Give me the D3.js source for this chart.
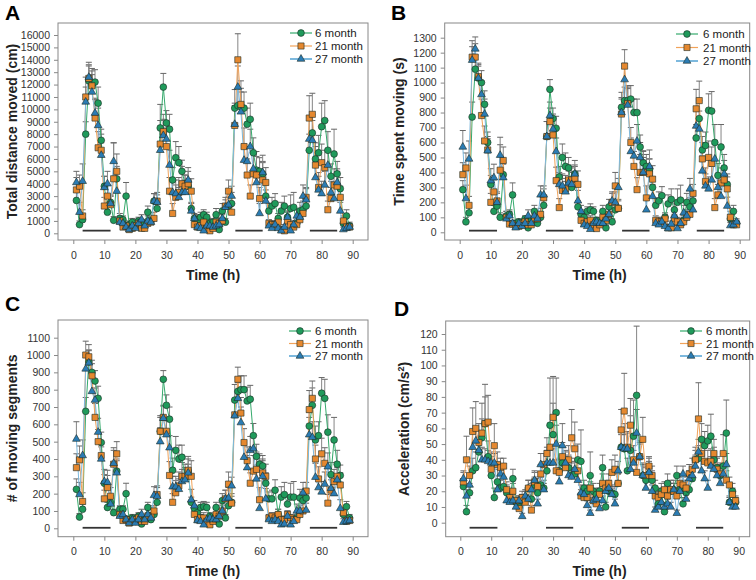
<!DOCTYPE html>
<html>
<head>
<meta charset="utf-8">
<script src="https://cdn.jsdelivr.net/npm/d3@7"></script>
<style>
  body { margin: 0; background: #fff; }
  svg { display: block; font-family: Arial, "Liberation Sans", sans-serif; }
</style>
</head>
<body>
<svg id="chart" width="756" height="580"></svg>
<script>
// hours 1..89
var hours = d3.range(1, 90);
var seriesNames = ['6 month', '21 month', '27 month'];
var darkPeriods = [[3, 12], [27.7, 36.5], [52.2, 61], [76.2, 85]];

// A - total distance moved (cm)
var distM6 = [2650,700,1100,8000,12300,12000,12200,10500,7500,3800,
  1700,2500,1050,4400,1200,1100,3000,700,900,600,
  1000,600,800,1700,1000,2600,2000,8500,11800,8900,
  8400,4300,6100,5700,5000,4000,3800,2000,1200,1100,
  1300,1500,1300,800,900,1500,300,1800,900,2200,
  2400,10100,10300,10200,10100,8800,9200,6500,5100,5000,
  4800,3000,1800,2200,2400,1200,1800,2200,1300,2000,
  2100,800,1800,1900,2200,6700,8100,6000,6500,8600,
  9100,6700,4600,6400,4800,3600,800,1400,600];
var distM21 = [3500,3800,1400,11000,12500,11900,9300,6900,6700,2200,
  3000,2300,4400,5000,1000,500,600,300,400,600,
  800,400,400,800,900,1200,2600,7200,8200,7000,
  3400,1600,2900,3300,4000,3800,4000,3400,700,500,
  600,900,400,200,400,900,800,1000,2200,3400,
  1700,8700,14000,10400,7000,4700,3000,4800,4700,2800,
  4300,4100,800,700,700,900,300,200,1000,700,
  500,700,1100,1600,2900,9300,9600,5500,3700,5700,
  5300,1900,2800,3900,3800,2900,1000,500,500];
var distM27 = [4100,1700,4200,10600,12600,11400,9700,8700,6300,3700,
  4000,2400,5800,3400,900,800,500,300,600,400,
  800,1100,600,1000,900,2600,2500,6700,7900,7600,
  5500,3300,3200,2900,3300,3300,4300,1800,1200,500,
  400,200,600,600,500,600,700,1200,2100,2300,
  3000,8800,11800,9800,5900,5800,7000,5200,4100,1600,
  4900,2600,600,400,700,400,200,500,1300,200,
  700,1400,1300,3000,2700,7600,7500,4500,3500,3200,
  3900,5500,3300,2800,4100,1800,300,400,500];
var distErr6 = [700,300,400,1000,1300,1300,1000,1300,900,800,
  400,500,300,1000,400,300,1100,300,300,200,
  300,200,300,500,300,600,600,1900,1100,1000,
  1200,1000,1300,1300,900,700,600,500,300,400,
  400,400,400,300,300,500,200,600,300,700,
  900,1500,1300,1500,1300,1300,1300,1200,1100,1100,
  900,900,600,700,800,400,700,800,500,1100,
  1200,300,700,700,800,1300,1500,1300,1400,1900,
  1600,1500,1000,2000,1000,900,300,500,300];
var distErr21 = [1000,900,500,1600,1000,1200,1500,1300,1300,700,
  900,700,2900,1400,400,300,300,200,200,300,
  300,200,200,400,400,500,700,1900,1400,1500,
  1100,800,1000,1200,1400,900,1000,1000,300,300,
  300,400,200,200,300,400,400,500,700,900,
  700,1800,2100,1900,1500,1300,900,1700,1900,900,
  1500,1200,300,300,300,400,200,200,400,300,
  300,300,400,600,800,1800,1700,1500,1200,1500,
  1400,700,900,1300,1200,900,400,300,300];
var distErr27 = [900,800,1400,1200,1200,1400,1200,1400,1000,900,
  1000,700,1500,1100,300,300,200,200,200,200,
  300,400,200,400,300,600,600,1700,1300,1300,
  1200,900,1100,800,900,1000,1000,600,400,200,
  200,200,300,300,200,300,300,400,600,700,
  800,1500,1700,1600,1300,1200,1400,1400,1200,800,
  1400,900,300,200,300,200,200,200,400,200,
  300,500,500,900,900,1800,1600,1300,1100,1000,
  1100,1300,900,900,1100,700,200,200,200];

// B - time spent moving (s)
var timeM6 = [285,70,130,770,1090,1030,1000,855,600,320,
  140,175,100,385,110,120,250,60,70,50,
  90,30,80,140,60,100,180,640,955,760,
  695,370,500,440,430,300,390,170,120,100,
  140,150,140,80,60,140,30,170,70,150,
  160,835,880,880,890,800,800,570,465,440,
  420,300,180,210,245,100,190,220,150,200,
  215,80,200,170,210,630,760,550,580,815,
  810,600,380,570,430,320,90,140,60];
var timeM21 = [385,430,180,1170,1170,1040,780,610,550,200,
  270,210,415,480,100,55,55,40,40,60,
  70,50,50,90,90,120,230,640,740,650,
  345,165,280,290,350,350,360,320,80,60,
  70,80,50,25,50,100,80,120,200,310,
  160,790,1110,860,600,440,285,400,400,230,
  390,355,80,70,70,90,30,30,90,70,
  50,70,100,120,260,825,880,490,340,500,
  460,165,250,330,350,290,100,50,50];
var timeM27 = [570,225,490,1150,1225,1030,920,790,545,345,
  365,200,515,365,90,110,60,30,60,40,
  60,110,60,110,90,250,250,640,780,690,
  540,320,310,270,330,320,390,210,140,50,
  40,20,60,70,60,60,90,120,210,200,
  300,800,1020,850,540,510,610,500,400,150,
  440,240,60,50,70,40,25,55,110,25,
  60,130,110,290,150,710,690,410,310,290,
  350,490,300,240,390,175,45,50,70];
var timeErr6 = [60,30,40,100,90,80,80,90,70,60,
  40,40,30,80,30,30,80,20,20,20,
  20,20,20,40,20,40,40,100,65,70,
  80,70,90,90,70,60,50,40,30,30,
  30,40,30,20,20,40,20,50,20,50,
  60,100,90,100,90,90,90,80,80,80,
  70,70,50,60,60,30,60,70,40,90,
  100,30,60,60,60,90,120,90,90,110,
  130,120,80,150,90,70,30,40,20];
var timeErr21 = [80,100,60,110,90,90,110,100,90,60,
  80,60,170,90,40,20,20,20,20,20,
  20,20,20,30,30,40,60,100,90,110,
  90,60,80,90,100,80,90,90,30,20,
  20,30,20,20,20,30,30,40,60,90,
  50,100,110,110,100,100,80,120,140,80,
  100,90,30,30,30,30,20,20,30,30,
  20,30,40,50,60,130,130,110,90,110,
  110,60,70,100,90,80,40,20,20];
var timeErr27 = [110,90,120,90,80,90,90,100,80,80,
  90,60,120,90,30,30,20,20,20,20,
  20,40,20,40,30,60,60,100,90,100,
  90,80,80,70,80,80,90,70,40,20,
  20,10,20,30,20,20,30,40,60,70,
  60,100,110,110,90,90,110,100,100,70,
  110,80,20,20,20,20,20,20,40,20,
  30,50,40,70,60,120,120,100,80,80,
  90,100,80,70,90,60,20,20,20];

// C - number of moving segments
var segM6 = [225,65,110,675,960,900,850,750,495,260,
  120,150,90,330,110,110,200,50,60,40,
  70,25,50,120,50,80,150,560,860,710,
  630,335,450,400,410,290,330,150,115,90,
  120,125,120,70,50,120,25,160,60,130,
  150,740,790,800,800,735,745,535,415,370,
  360,260,170,170,220,80,180,195,140,180,
  180,60,175,160,175,590,710,510,535,780,
  750,555,310,510,370,305,80,125,60];
var segM21 = [350,395,155,1000,990,880,640,500,420,170,
  235,185,370,430,80,45,50,30,40,50,
  60,40,40,70,70,100,195,560,640,560,
  305,150,205,245,300,300,335,300,80,50,
  60,60,40,20,40,80,70,100,170,255,
  145,655,860,665,495,390,260,330,340,165,
  320,300,60,70,60,80,50,50,80,60,
  50,50,80,100,215,685,750,400,285,430,
  375,145,220,270,300,250,90,40,45];
var segM27 = [515,195,420,920,955,790,740,555,400,270,
  265,140,375,320,70,80,50,30,50,30,
  50,80,50,80,60,190,185,500,635,540,
  465,240,240,225,270,280,320,165,130,45,
  40,20,50,60,50,50,70,100,170,175,
  245,650,750,610,410,350,450,460,285,115,
  300,170,50,40,50,40,20,25,70,20,
  40,100,100,205,105,540,525,295,235,210,
  255,355,230,200,280,115,35,40,45];
var segErr6 = [60,20,30,80,70,70,60,70,60,50,
  30,30,20,70,20,20,60,20,20,20,
  20,10,20,30,20,30,30,90,50,60,
  70,70,80,80,70,50,40,30,20,20,
  30,30,30,20,20,30,10,40,20,40,
  50,90,80,80,80,80,80,70,70,60,
  60,60,40,50,60,30,60,70,40,80,
  90,20,50,50,50,80,100,80,80,90,
  110,100,70,130,80,60,20,30,20];
var segErr21 = [80,80,50,80,70,70,80,70,70,50,
  70,50,80,70,30,20,20,10,10,20,
  20,20,20,20,20,30,50,80,70,80,
  80,50,70,80,80,70,80,90,20,20,
  20,30,20,10,20,30,20,40,50,70,
  40,90,70,90,80,80,60,90,100,70,
  80,70,20,20,20,30,20,20,20,20,
  20,20,30,40,50,110,100,80,70,90,
  90,50,60,70,70,70,30,20,20];
var segErr27 = [100,70,90,80,70,80,70,80,70,70,
  70,50,90,70,20,20,20,10,20,10,
  20,30,20,30,20,50,50,80,70,80,
  70,60,60,60,70,70,80,60,30,20,
  20,10,20,20,20,20,20,30,50,60,
  50,80,90,90,70,70,80,80,80,60,
  90,60,20,20,20,20,10,10,30,10,
  20,40,30,60,40,100,90,80,60,60,
  70,80,70,60,70,50,20,20,20];

// D - acceleration (cm/s2)
var accM6 = [23,7,19,33,35,45,54,63,42,30,
  16,26,22,23,19,15,28,13,10,14,
  16,22,15,24,19,24,22,33,62,56,
  70,33,38,36,35,30,31,40,39,22,
  20,30,20,18,20,35,10,20,19,18,
  25,48,47,33,46,55,81,42,30,27,
  31,27,22,12,20,7,25,20,21,30,
  21,12,19,21,28,40,41,53,49,52,
  55,40,35,30,36,57,13,20,13];
var accM21 = [26,40,30,58,60,51,57,63,64,34,
  49,37,35,36,21,16,20,14,9,16,
  13,22,8,26,23,31,37,44,48,67,
  33,32,42,35,40,54,47,33,17,16,
  16,22,14,12,18,25,22,25,32,34,
  25,59,71,48,62,40,32,42,53,30,
  36,30,17,16,18,21,17,21,20,17,
  25,24,22,31,34,40,66,44,39,38,
  39,44,34,31,44,27,24,18,14];
var accM27 = [28,17,24,48,52,46,40,40,39,38,
  38,21,31,29,14,13,14,10,14,4,
  17,15,21,27,12,37,21,38,38,38,
  50,26,49,38,30,29,34,27,19,18,
  11,6,14,15,9,14,20,22,18,12,
  33,48,47,47,34,38,57,42,30,22,
  32,20,8,10,13,10,12,10,21,6,
  20,31,15,28,30,36,45,33,28,22,
  36,34,30,25,31,37,13,10,10];
var accErr6 = [5,4,6,8,10,10,12,25,10,8,
  6,8,5,6,5,4,6,3,4,4,
  4,5,4,5,4,5,5,15,30,20,
  22,8,10,9,8,8,8,10,20,5,
  4,15,5,4,5,8,3,5,5,5,
  6,10,16,8,22,23,44,10,8,8,
  10,6,5,4,5,3,6,5,6,6,
  5,4,5,6,6,6,8,10,9,10,
  14,8,7,8,8,21,4,5,3];
var accErr21 = [6,15,6,15,17,12,19,17,17,8,
  14,8,6,5,5,4,5,3,3,4,
  3,5,3,6,5,6,7,10,15,26,
  7,8,9,7,9,18,17,7,4,4,
  4,4,4,3,4,6,4,6,8,9,
  6,13,24,10,17,9,8,9,14,6,
  6,6,4,4,4,5,4,6,5,4,
  6,5,5,6,7,8,23,10,9,8,
  8,9,7,6,12,6,5,4,3];
var accErr27 = [5,4,5,9,9,8,8,7,7,7,
  6,5,6,6,4,3,4,3,3,2,
  4,3,4,6,3,7,4,8,8,9,
  12,5,14,8,6,6,7,6,5,4,
  3,2,3,3,2,3,4,5,4,3,
  6,8,9,10,7,8,15,8,7,5,
  7,4,2,3,3,3,3,3,4,2,
  4,5,3,5,5,7,8,6,5,5,
  6,7,6,5,6,7,3,2,2];

var xTicks = [0, 10, 20, 30, 40, 50, 60, 70, 80, 90];

var fill_colors = ['#1f9a5b', '#e5882f', '#2b7cb4'];
var line_colors = ['#35aa6c', '#f1a35a', '#7db9de'];
var shapes = [d3.symbolCircle, d3.symbolSquare, d3.symbolTriangle];
var shape_sizes = [36, 38, 26];
var text_color = '#222';
var frame_color = '#888';

var panels = [
  {letter: 'A', lx: 5, ly: 20, title: 'Total distance moved (cm)', tx: 12,
   frame: [58, 23, 368, 240], xr: [73.3, 352.7], ydom: [0, 16000], yr: [233.3, 35], ystep: 1000,
   xlab: 255, xtitle: 280, bar: 215, leg: [290, 315, 33, 13],
   vals: [distM6, distM21, distM27], errs: [distErr6, distErr21, distErr27]},
  {letter: 'B', lx: 391, ly: 20, title: 'Time spent moving (s)', tx: 399,
   frame: [444.7, 23, 749.7, 240], xr: [459.7, 739.7], ydom: [0, 1300], yr: [232.3, 37.7], ystep: 100,
   xlab: 255, xtitle: 280, bar: 11, leg: [676, 703, 34, 13.5],
   vals: [timeM6, timeM21, timeM27], errs: [timeErr6, timeErr21, timeErr27]},
  {letter: 'C', lx: 5, ly: 311, title: '# of moving segments', tx: 12,
   frame: [58, 320, 368, 536.7], xr: [73.3, 352.7], ydom: [0, 1100], yr: [528.3, 337.7], ystep: 100,
   xlab: 551, xtitle: 576, bar: 3, leg: [289, 315, 331, 12.5],
   vals: [segM6, segM21, segM27], errs: [segErr6, segErr21, segErr27]},
  {letter: 'D', lx: 394, ly: 316, title: 'Acceleration (cm/s', sup: '2', tx: 404,
   frame: [445.7, 321, 749.7, 536.7], xr: [460.3, 738.7], ydom: [0, 120], yr: [522.7, 334], ystep: 10,
   xlab: 551, xtitle: 576, bar: -3.2, leg: [680, 706, 331, 12.5],
   vals: [accM6, accM21, accM27], errs: [accErr6, accErr21, accErr27]}
];

var svg = d3.select('#chart');

panels.forEach(function(p){

  var g = svg.append('g');
  var x = d3.scaleLinear().domain([0, 90]).range(p.xr);
  var y = d3.scaleLinear().domain(p.ydom).range(p.yr);
  var f = p.frame;

  // panel letter
  g.append('text')
    .attr('x', p.lx).attr('y', p.ly)
    .style('font-size', '21px')
    .style('font-weight', 'bold')
    .style('fill', '#000')
    .text(p.letter);

  // frame
  g.append('rect')
    .attr('x', f[0]).attr('y', f[1])
    .attr('width', f[2] - f[0]).attr('height', f[3] - f[1])
    .style('fill', 'none')
    .style('stroke', frame_color)
    .style('stroke-width', 1);

  // y axis
  var yTicks = d3.range(p.ydom[0], p.ydom[1] + p.ystep / 2, p.ystep);
  var yAxis = d3.axisLeft(y).tickValues(yTicks).tickFormat(d3.format('d')).tickSize(4).tickPadding(4);
  var ya = g.append('g')
    .attr('transform', 'translate(' + f[0] + ',0)')
    .call(yAxis);
  ya.select('.domain').remove();

  // x axis
  var xAxis = d3.axisBottom(x).tickValues(xTicks).tickFormat(d3.format('d')).tickSize(4).tickPadding(0);
  var xa = g.append('g')
    .attr('transform', 'translate(0,' + f[3] + ')')
    .call(xAxis);
  xa.select('.domain').remove();
  xa.selectAll('text').attr('y', p.xlab - f[3] + 4).attr('dy', null);

  g.selectAll('.tick line').style('stroke', frame_color);
  g.selectAll('.tick text')
    .style('font-size', '10.5px')
    .style('font-family', 'Arial, "Liberation Sans", sans-serif')
    .style('fill', '#333');

  // axis titles
  g.append('text')
    .attr('x', (p.xr[0] + p.xr[1]) / 2).attr('y', p.xtitle)
    .style('text-anchor', 'middle')
    .style('font-size', '14px')
    .style('font-weight', 'bold')
    .style('fill', text_color)
    .text('Time (h)');

  var yt = g.append('text')
    .attr('transform', 'translate(' + (p.tx + 5) + ',' + ((f[1] + f[3]) / 2) + ') rotate(-90)')
    .style('text-anchor', 'middle')
    .style('font-size', '14px')
    .style('font-weight', 'bold')
    .style('fill', text_color)
    .text(p.title);
  if (p.sup){
    yt.append('tspan').attr('dy', -5).style('font-size', '9px').text(p.sup);
    yt.append('tspan').attr('dy', 5).text(')');
  }

  // dark period bars
  g.selectAll('.dark')
    .data(darkPeriods)
    .enter()
    .append('line')
    .attr('x1', function(d){ return x(d[0]); })
    .attr('x2', function(d){ return x(d[1]); })
    .attr('y1', y(p.bar)).attr('y2', y(p.bar))
    .style('stroke', '#333')
    .style('stroke-width', 1.8);

  // error bars (upper only)
  p.vals.forEach(function(vals, si){
    var errs = p.errs[si];
    var eb = g.append('g').selectAll('g')
      .data(hours)
      .enter()
      .append('g');
    eb.append('line')
      .attr('x1', function(d){ return x(d); })
      .attr('x2', function(d){ return x(d); })
      .attr('y1', function(d, i){ return y(vals[i]); })
      .attr('y2', function(d, i){ return y(vals[i] + errs[i]); })
      .style('stroke', '#858585')
      .style('stroke-width', 1);
    eb.append('line')
      .attr('x1', function(d){ return x(d) - 3; })
      .attr('x2', function(d){ return x(d) + 3; })
      .attr('y1', function(d, i){ return y(vals[i] + errs[i]); })
      .attr('y2', function(d, i){ return y(vals[i] + errs[i]); })
      .style('stroke', '#666')
      .style('stroke-width', 1);
  });

  // lines
  p.vals.forEach(function(vals, si){
    var line = d3.line()
      .x(function(d){ return x(d); })
      .y(function(d, i){ return y(vals[i]); });
    g.append('path')
      .datum(hours)
      .attr('d', line)
      .style('fill', 'none')
      .style('stroke', line_colors[si])
      .style('stroke-width', 1);
  });

  // markers
  p.vals.forEach(function(vals, si){
    g.append('g').selectAll('path')
      .data(hours)
      .enter()
      .append('path')
      .attr('d', d3.symbol().type(shapes[si]).size(shape_sizes[si]))
      .attr('transform', function(d, i){
        return 'translate(' + x(d) + ',' + y(vals[i]) + ')';
      })
      .style('fill', fill_colors[si])
      .style('stroke', '#1d2b25')
      .style('stroke-width', 0.6);
  });

  // legend
  var lg = g.append('g');
  seriesNames.forEach(function(name, si){
    var ly = p.leg[2] + si * p.leg[3];
    lg.append('line')
      .attr('x1', p.leg[0]).attr('x2', p.leg[0] + 22)
      .attr('y1', ly).attr('y2', ly)
      .style('stroke', line_colors[si])
      .style('stroke-width', si == 2 ? 2 : 1.2);
    lg.append('path')
      .attr('d', d3.symbol().type(shapes[si]).size(shape_sizes[si]))
      .attr('transform', 'translate(' + (p.leg[0] + 11) + ',' + ly + ')')
      .style('fill', fill_colors[si])
      .style('stroke', '#1d2b25')
      .style('stroke-width', 0.6);
    lg.append('text')
      .attr('x', p.leg[1]).attr('y', ly + 4)
      .style('font-size', '11.5px')
      .style('fill', text_color)
      .text(name);
  });
});
</script>
</body>
</html>
